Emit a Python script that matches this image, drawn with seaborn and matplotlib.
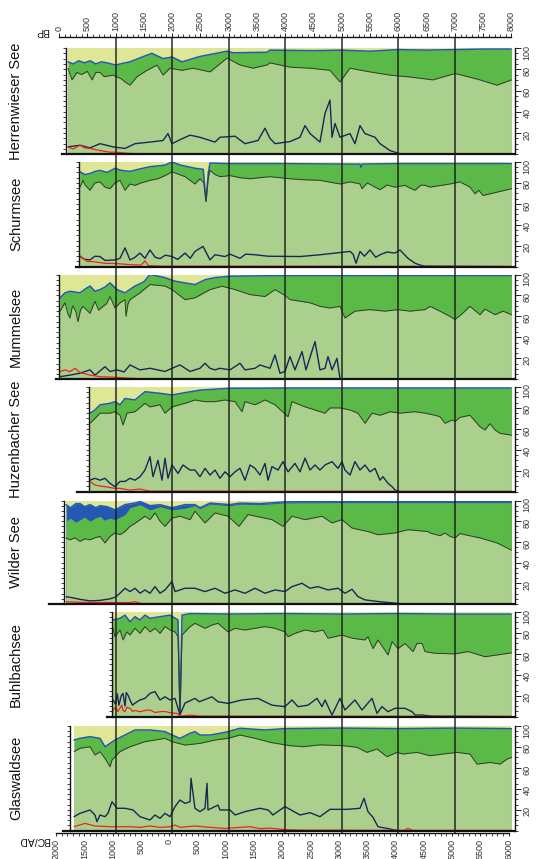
import numpy as np
import matplotlib
matplotlib.use("Agg")
import matplotlib.pyplot as plt
import seaborn as sns
from matplotlib.ticker import MultipleLocator, FixedLocator

# =========================
# 1. DATA (ages in cal BP, values in %)
# =========================
lake_names = ["Herrenwieser See", "Schurmsee", "Mummelsee", "Huzenbacher See",
              "Wilder See", "Buhlbachsee", "Glaswaldsee"]

# Herrenwieser See
herr_b_age = [159, 250, 350, 450, 550, 650, 750, 850, 1000, 1255, 1640, 1840, 1998, 2175, 2490, 2970, 3080,
              3680, 3730, 4500, 5000, 5500, 6000, 6500, 7000, 7500, 8000]
herr_b = [87, 85, 88, 86, 88, 85, 87, 86, 84, 87, 95, 90, 91.5, 87, 92, 97, 95.5,
          96, 98, 97.5, 98, 97, 98.5, 98, 98.5, 99, 99]
herr_a_age = [159, 230, 318, 400, 500, 585, 650, 725, 800, 955, 1100, 1170, 1255, 1379, 1556, 1733, 1839, 1962,
              2175, 2369, 2670, 2970, 3200, 3430, 3677, 3730, 4084, 4438, 4791, 4968, 5145, 5498, 5852,
              6206, 6612, 7001, 7266, 7443, 7744, 8000]
herr_a = [81, 70, 77, 75, 78, 70, 77, 77, 73, 74.5, 71, 68, 65, 73, 79, 84, 74.5, 81,
          79, 81, 77.5, 90.5, 84, 81, 84, 86, 82, 81, 79, 68, 81, 77.5, 74.5,
          72.7, 70, 76, 72.5, 70, 65, 70]
herr_n_age = [159, 371, 550, 725, 955, 1167, 1344, 1609, 1839, 1927, 1998, 2150, 2316, 2493, 2758, 2846, 3112,
              3288, 3518, 3642, 3730, 3819, 4084, 4261, 4349, 4438, 4614, 4703, 4791, 4827, 4880, 4968,
              5145, 5233, 5322, 5410, 5587, 5675, 5852, 6029, 8000]
herr_n = [7, 8.5, 6, 10, 7, 5.5, 10, 11.5, 13, 19.5, 10, 14, 18, 16, 11.5, 16, 17,
          10, 13, 24.5, 15, 10, 12, 16, 27, 19.5, 11.5, 38.5, 51, 16, 29, 16,
          19.5, 10, 27, 19.5, 16, 10, 3.5, 0.5, 0]
herr_r_age = [159, 250, 371, 460, 550, 725, 902, 990, 1255, 1600, 8000]
herr_r = [7, 5, 8.5, 6, 5.5, 3.5, 2, 2, 0.8, 0.5, 0.3]

# Schurmsee
schu_b_age = [371, 460, 550, 640, 725, 850, 990, 1100, 1255, 1400, 1609, 1874, 1998, 2150, 2404, 2550, 2599,
              2640, 2670, 3000, 4000, 5000, 5322, 5340, 5360, 6000, 7000, 8000]
schu_b = [90.6, 88, 89, 91, 92, 90, 94, 92, 91, 93, 95.5, 97, 100, 97, 94, 93, 63,
          90, 99, 98.5, 98.5, 98, 98, 95, 98, 98.5, 98.5, 98.5]
schu_a_age = [371, 424, 460, 548, 636, 725, 813, 902, 990, 1078, 1167, 1255, 1344, 1450, 1609, 1750, 1874,
              1998, 2228, 2404, 2493, 2560, 2599, 2640, 2670, 2758, 2846, 3023, 3200, 3377, 3730, 4084,
              4350, 4614, 4968, 5150, 5322, 5357, 5450, 5587, 5675, 5800, 5940, 6117, 6206, 6294, 6400,
              6470, 6560, 6913, 7089, 7266, 7355, 7420, 7496, 7620, 8000]
schu_a = [76, 82.5, 78, 73, 80, 81, 76, 74.5, 80, 82.5, 73, 79, 77.7, 80, 82.5, 84, 87,
          90.6, 86, 79, 84, 80, 62, 85, 92, 88, 86, 87, 85, 84, 86, 84,
          83, 82.5, 79, 81, 79, 74.5, 80, 76, 73.5, 78, 76, 77.7, 75, 73, 78,
          77.7, 76, 79, 81, 76, 69.6, 73, 68, 69.6, 74.5]
schu_n_age = [371, 460, 548, 636, 725, 813, 990, 1078, 1167, 1255, 1344, 1432, 1520, 1609, 1700, 1786, 1880,
              1998, 2100, 2228, 2320, 2404, 2546, 2670, 2758, 2935, 3023, 3200, 3300, 3465, 3700, 4261,
              4614, 5145, 5200, 5251, 5322, 5400, 5498, 5600, 5675, 5800, 5940, 6029, 6170, 6294, 6383,
              6471, 8000]
schu_n = [9.7, 7, 6.5, 10, 9.7, 6, 6.5, 8, 18, 6.5, 9, 13, 8, 16, 9, 7.7, 11,
          9.7, 7, 13, 8, 14.6, 19.4, 6.5, 11.4, 9.7, 12, 8, 12, 11.4, 10, 9.7,
          11.4, 14.6, 12, 3.3, 14.6, 10, 16, 9, 11.4, 14, 13, 16, 8, 3.3, 1.6,
          0.5, 0]
schu_r_age = [371, 424, 500, 600, 800, 1000, 1255, 1450, 1520, 1580, 1800, 8000]
schu_r = [10.4, 8, 5, 4.9, 3.3, 3, 2, 1.5, 5.5, 1, 0.5, 0.3]

# Mummelsee
mumm_b_age = [18, 106, 194, 371, 460, 548, 636, 725, 813, 902, 1025, 1167, 1344, 1500, 1609, 1874, 2051,
              2228, 2404, 2581, 2758, 3023, 4000, 5000, 6000, 7000, 8000]
mumm_b = [77.7, 82.5, 84, 82.5, 86, 89, 84, 85.6, 88, 92, 85.6, 82.5, 89, 93, 100, 97, 93.6,
          92, 90.4, 95, 97, 98.4, 99, 99, 99, 99, 99]
mumm_a_age = [18, 106, 160, 194, 230, 248, 300, 336, 380, 424, 548, 636, 700, 778, 840, 902, 990, 1080,
              1167, 1185, 1220, 1255, 1432, 1609, 1874, 1998, 2228, 2404, 2670, 2882, 3112, 3377, 3642,
              3819, 3996, 4084, 4438, 4614, 4791, 4968, 5056, 5233, 5498, 5764, 5994, 6206, 6471, 6560,
              6736, 6913, 7001, 7125, 7266, 7443, 7532, 7709, 7850, 8000]
mumm_a = [65, 73, 62, 58.5, 68, 70, 64, 55, 66, 69.6, 63, 74.4, 66, 69.6, 72, 79, 68, 73,
          76, 60, 72, 76, 82.5, 90.4, 89, 85.6, 76, 77.7, 85.6, 88.8, 85.6, 80.8, 79,
          85.6, 80, 76, 73, 69.6, 68, 69.6, 58.5, 65, 66.5, 65, 66.5, 65, 66.5, 69.6,
          65, 60, 57, 62.5, 69.6, 61.6, 67, 61.6, 65, 61.6]
mumm_n_age = [18, 194, 371, 548, 636, 725, 813, 902, 1025, 1150, 1255, 1432, 1609, 1874, 1998, 2139, 2316,
              2493, 2581, 2670, 2758, 2846, 3023, 3200, 3288, 3465, 3554, 3730, 3819, 3907, 3996, 4084,
              4172, 4296, 4367, 4526, 4614, 4703, 4756, 4827, 4915, 4968, 8000]
mumm_n = [2.5, 4, 5.8, 9, 4, 8, 12, 7.5, 9, 7, 13.7, 9, 10.5, 7.5, 10.5, 13.7, 7.5,
          10.5, 15.3, 10.5, 9, 10.5, 9, 15.3, 9, 10.5, 13.7, 10.5, 23.3, 5.8, 7.5, 21.7,
          9, 26.5, 9, 36, 9, 10.5, 21.7, 9, 20, 0.5, 0]
mumm_r_age = [18, 106, 194, 283, 371, 548, 725, 990, 1255, 1500, 8000]
mumm_r = [7.3, 9, 7.3, 10.5, 6.5, 4, 2.5, 2, 1, 0.5, 0.3]

# Huzenbacher See
huze_b_age = [548, 636, 725, 902, 990, 1078, 1167, 1344, 1520, 1786, 1998, 2228, 2493, 3023, 4000, 5000,
              6000, 7000, 8000]
huze_b = [75, 78, 83, 84.4, 86, 83, 89, 87.6, 95.5, 94, 92.4, 94.6, 97, 98.8, 99, 99,
          99, 99, 99]
huze_a_age = [548, 636, 725, 902, 990, 1078, 1132, 1202, 1344, 1520, 1609, 1786, 1874, 1998, 2228, 2404,
              2581, 2758, 2935, 3112, 3235, 3288, 3465, 3642, 3819, 4049, 4119, 4349, 4703, 4791, 4968,
              5145, 5286, 5410, 5534, 5675, 5852, 6029, 6294, 6471, 6648, 6736, 6825, 6948, 7001, 7089,
              7266, 7443, 7532, 7620, 7709, 7797, 8000]
huze_a = [65.3, 70, 75, 75, 76.4, 73, 63.7, 75, 76.4, 84.4, 81, 83, 75, 81, 84.4, 87.6,
          86, 86, 87.6, 86, 76.4, 86, 83, 87.6, 83, 71.6, 86, 81, 75, 80, 80,
          78, 75, 65.3, 75, 73, 76.4, 75, 76.4, 75, 73, 71.6, 65.3, 68.5, 67, 71,
          73, 62, 59, 65, 59, 55.7, 54]
huze_n_age = [548, 636, 725, 813, 902, 990, 1078, 1167, 1255, 1344, 1432, 1520, 1609, 1662, 1750, 1821,
              1874, 1927, 1998, 2104, 2192, 2316, 2404, 2493, 2581, 2670, 2758, 2846, 2935, 3023, 3112,
              3200, 3288, 3377, 3465, 3554, 3642, 3695, 3766, 3872, 3960, 4049, 4172, 4261, 4349, 4438,
              4526, 4614, 4703, 4827, 4933, 5003, 5056, 5145, 5233, 5322, 5410, 5498, 5587, 5675, 5728,
              5817, 5888, 5940, 6029, 8000]
huze_n = [11, 12.8, 11, 12.8, 8, 4.8, 9.8, 9.8, 12.8, 11, 14.3, 20.7, 33.4, 14.3, 30, 11,
          32, 12.8, 25.5, 17.5, 25.5, 20.7, 20.7, 14.3, 22.3, 15.9, 20.7, 12.8, 19, 14.3, 19,
          22.3, 11, 25.5, 22.3, 15.9, 27, 11, 24, 20.7, 28.7, 19, 27, 19, 32, 20.7,
          25.5, 20.7, 25.5, 28.7, 22.3, 28.7, 20.7, 15.9, 28.7, 20.7, 25.5, 19, 22.3, 11, 14.3,
          8, 4.8, 1.6, 0, 0]
huze_r_age = [548, 636, 725, 813, 902, 990, 1078, 1255, 1432, 1609, 8000]
huze_r = [9.6, 6.4, 5.4, 4.8, 4, 3.2, 3.2, 1.5, 2.5, 0.5, 0.3]

# Wilder See (has a broad blue band on top of the dark green)
wild_c_age = [124, 200, 300, 371, 450, 550, 650, 725, 850, 990, 1167, 1344, 1432, 1609, 1786, 1998, 2228,
              2404, 2493, 2670, 3023, 3200, 3554, 3996, 5000, 6000, 7000, 8000]
wild_c = [96, 93, 97, 97, 94, 96, 93, 95, 94, 91, 96, 97.5, 99, 95, 96, 93, 96,
          96, 93, 97.5, 96, 97.5, 97, 98.7, 99, 99, 99, 99]
wild_b_age = [124, 200, 300, 371, 450, 548, 640, 725, 800, 902, 990, 1080, 1167, 1255, 1432, 1609, 1786,
              1998, 2228, 2404, 2493, 2670, 3023, 3200, 3554, 3996, 5000, 6000, 7000, 8000]
wild_b = [80, 83, 79, 81.5, 84, 80, 83, 84.8, 81, 83, 81.5, 84, 86.4, 93, 96, 91, 94,
          91, 92.6, 95, 92, 96.5, 95, 96.5, 96, 97.7, 98, 98, 98, 98]
wild_a_age = [124, 194, 280, 371, 460, 548, 636, 725, 813, 902, 990, 1078, 1167, 1255, 1344, 1520, 1609,
              1697, 1786, 1874, 1998, 2139, 2316, 2404, 2581, 2758, 2988, 3182, 3341, 3766, 3960, 4119,
              4349, 4650, 4827, 5003, 5180, 5463, 5640, 5940, 6170, 6524, 6560, 6736, 6825, 6913, 7001,
              7089, 7443, 7744, 8000]
wild_a = [63.8, 62, 64, 60.5, 63, 62, 64, 65.3, 59, 65.3, 68.6, 67, 70, 75, 78, 84.8, 81.5,
          88, 80, 75, 83, 84.8, 81.5, 89.6, 78.3, 88, 84.8, 75, 86.4, 81.5, 75, 84.8,
          81.5, 84.8, 78.3, 81.5, 73.4, 70, 66.9, 68.6, 71.8, 70, 68.6, 66, 68.6, 65.3, 63.8,
          68, 63.8, 59, 52]
wild_n_age = [124, 194, 371, 548, 725, 902, 990, 1078, 1167, 1255, 1344, 1432, 1520, 1609, 1697, 1786,
              1874, 1998, 2051, 2228, 2404, 2581, 2758, 2935, 3112, 3288, 3465, 3642, 3819, 3996, 4119,
              4296, 4438, 4579, 4756, 4933, 5056, 5180, 5286, 5410, 5640, 5940, 6100, 8000]
wild_n = [7, 6.5, 4.5, 3, 3.5, 5, 6.5, 10.4, 15.2, 12, 15.2, 10.4, 13.6, 10.4, 16.8, 10.4,
          13.6, 21.7, 12, 15.2, 15.2, 12, 15.2, 10.4, 13.6, 10.4, 15.2, 10.4, 13.6, 12, 16.8,
          20, 15.2, 16.8, 13.6, 15.2, 10.4, 14.2, 7.2, 4, 2.4, 0.8, 0, 0]
wild_r_age = [124, 400, 800, 1255, 1344, 1450, 8000]
wild_r = [2.2, 1.5, 1.5, 1.3, 2.2, 0.5, 0.3]

# Buhlbachsee
buhl_b_age = [955, 1078, 1167, 1255, 1344, 1432, 1520, 1609, 1786, 1962, 2104, 2139, 2175, 2316, 3000, 4000,
              5000, 6000, 7000, 8000]
buhl_b = [92.4, 94, 97, 90.7, 95.5, 92.4, 97, 94, 95.5, 97, 92.4, 3, 97, 98.5, 98, 98.5,
          98, 98.5, 98, 98]
buhl_a_age = [955, 990, 1078, 1132, 1202, 1255, 1344, 1432, 1520, 1609, 1697, 1786, 1874, 1962, 2051, 2104,
              2139, 2175, 2316, 2404, 2581, 2705, 2811, 2988, 3112, 3288, 3465, 3642, 3819, 3996, 4049,
              4172, 4349, 4526, 4668, 4756, 5003, 5180, 5410, 5463, 5551, 5640, 5817, 5888, 5994, 6117,
              6259, 6329, 6418, 6471, 6648, 7001, 7231, 7532, 8000]
buhl_a = [84.4, 76.4, 82.8, 73.3, 81, 78, 84.4, 79.6, 86, 81, 84.4, 79.6, 86, 82.8, 81, 76.4,
          2, 78, 86, 89.2, 84.4, 87.6, 89.2, 81, 84.4, 82.8, 84.4, 86, 84.4, 81, 76.4,
          79.6, 82.8, 81, 82.8, 75, 78, 75, 73.3, 76.4, 65, 73.3, 59, 71.7, 65, 70,
          62.2, 70, 70, 62.2, 60.6, 60, 62.2, 57.3, 61]
buhl_n_age = [955, 1000, 1030, 1060, 1100, 1132, 1167, 1190, 1220, 1255, 1300, 1344, 1432, 1520, 1609, 1697,
              1786, 1874, 1962, 2051, 2139, 2228, 2404, 2480, 2705, 2811, 2988, 3235, 3518, 3766, 3996,
              4119, 4225, 4402, 4561, 4650, 4703, 4827, 4968, 5056, 5233, 5357, 5534, 5622, 5710, 5817,
              5940, 6117, 6241, 6294, 6418, 6600, 8000]
buhl_n = [16, 12, 22, 11, 20, 22.3, 10.2, 23, 20.7, 16, 11, 13, 16, 17.5, 22.3, 24,
          16, 19, 16, 17.5, 2, 13, 17.5, 14.3, 19, 14.3, 12.7, 16, 17.5, 11, 9.6,
          16, 9.6, 11, 17.5, 9.6, 16, 1.6, 17.5, 6.4, 16, 6.4, 17.5, 3.2, 9.6, 4.8,
          8, 8, 4.8, 1.6, 1.6, 0.5, 0]
buhl_r_age = [955, 1000, 1040, 1078, 1110, 1132, 1167, 1200, 1255, 1300, 1344, 1432, 1520, 1609, 1700, 1786,
              1874, 1962, 2100, 2139, 2316, 2500, 8000]
buhl_r = [6.4, 9, 5, 8, 11, 6, 4.8, 9, 8, 5, 6, 4.8, 6, 6.4, 4, 4.8,
          5, 3.8, 3, 0.5, 1.5, 0.5, 0.3]

# Glaswaldsee
glas_b_age = [265, 371, 548, 725, 813, 902, 990, 1167, 1344, 1609, 1874, 1998, 2139, 2316, 2404, 2493, 2670,
              2846, 2988, 3200, 3642, 4000, 5000, 6000, 7000, 8000]
glas_b = [86.6, 88.2, 89.8, 88.2, 80.2, 83.4, 86.6, 91.4, 96.2, 96.2, 94.6, 91.4, 88.2, 93, 94.6, 91.4, 91.4,
          93, 94.6, 97.8, 96.2, 97.5, 98, 97.5, 98, 97.5]
glas_a_age = [265, 371, 548, 636, 725, 813, 902, 937, 990, 1078, 1255, 1520, 1874, 1998, 2228, 2493, 2758,
              2988, 3200, 3465, 3695, 3730, 4084, 4314, 4614, 5021, 5270, 5445, 5622, 5799, 5976, 6082,
              6329, 6560, 6789, 7036, 7266, 7390, 7620, 7797, 7921, 8000]
glas_a = [75.5, 78.7, 80.2, 72.3, 75.5, 69.1, 61.1, 67.5, 70.7, 75.5, 80.2, 85, 88.2, 85, 81.8, 83.4, 86.6,
          88.2, 91.4, 88.2, 85, 84.4, 81.2, 80.2, 82, 81.2, 79.6, 74.8, 78, 70.7, 74.8, 73.2,
          74.8, 71.6, 73.2, 74.8, 73.2, 63.6, 65.2, 63.6, 68.4, 70]
glas_n_age = [265, 371, 548, 636, 672, 725, 813, 866, 937, 1025, 1167, 1308, 1432, 1609, 1697, 1786, 1874,
              1962, 2051, 2139, 2228, 2316, 2334, 2404, 2493, 2581, 2617, 2634, 2811, 2846, 3023, 3112,
              3288, 3554, 3695, 3730, 3780, 3996, 4261, 4438, 4614, 4791, 5092, 5322, 5392, 5463, 5551,
              5640, 5799, 5994, 8000]
glas_n = [13.4, 16.6, 19.8, 15, 8.6, 15, 13.4, 16.6, 27.7, 21.4, 21.4, 19.8, 13.4, 10.2, 15, 11.8, 16.6,
          13.4, 23, 29.3, 26.1, 27.7, 50, 21.4, 18.2, 21.4, 45.3, 19.8, 24.5, 19.8, 19.8, 15,
          18.2, 21.4, 19.8, 18.2, 15, 23, 15, 17.2, 13.4, 20.4, 20.4, 21.4, 31, 18.2, 12.8,
          3.8, 2.2, 0, 0]
glas_r_age = [265, 460, 636, 902, 1255, 1432, 1609, 1786, 1962, 2051, 2139, 2404, 2670, 2935, 3377, 3554,
              3730, 4000, 4300, 6100, 6170, 6250, 8000]
glas_r = [3.8, 7, 4.5, 3.8, 3.8, 3.2, 4.5, 3.2, 3.8, 5.4, 3.2, 4.5, 3.2, 2.2, 3.8, 2,
          2.5, 1, 0.5, 0.3, 2.2, 0.3, 0.3]

bp_ticks = list(range(0, 8001, 500))
grid_ages = list(range(1000, 8000, 1000))
bcad_years = [2000, 1500, 1000, 500, 0, 500, 1000, 1500, 2000, 2500, 3000, 3500, 4000, 4500, 5000, 5500, 6000]
bcad_is_bc = [False] * 5 + [True] * 12

# =========================
# 2. STYLE
# =========================
sns.set_theme(style="white")
plt.rcParams["font.family"] = ["Liberation Sans", "DejaVu Sans"]

YELLOW = "#dfe696"
GREEN = "#5bb947"
LIGHT = "#abcf8c"
BLUE = "#2458b5"
NAVY = "#1b2659"
RED = "#f0231f"
ALINE = "#2f3d2a"
TICKC = "#333333"

W, H = 537, 859
X0 = 59.0          # pixel of 0 BP
PX = 0.05656       # pixels per year
AGE_RIGHT = 8062   # age at right spine

fig = plt.figure(figsize=(W / 100, H / 100), dpi=100)

# panel layout: (top px, bottom px, age where bottom line starts, age of left spine)
layout = [(48, 154.3, 48, 118), (162, 266.7, 300, 354), (274.5, 379.3, -53, 5),
          (387, 491.7, 318, 536), (500.5, 604, -177, 88), (612, 716.7, 849, 932),
          (726, 830.7, 65, 194)]

series = [
    (herr_b_age, herr_b, herr_a_age, herr_a, herr_n_age, herr_n, herr_r_age, herr_r, None, None),
    (schu_b_age, schu_b, schu_a_age, schu_a, schu_n_age, schu_n, schu_r_age, schu_r, None, None),
    (mumm_b_age, mumm_b, mumm_a_age, mumm_a, mumm_n_age, mumm_n, mumm_r_age, mumm_r, None, None),
    (huze_b_age, huze_b, huze_a_age, huze_a, huze_n_age, huze_n, huze_r_age, huze_r, None, None),
    (wild_b_age, wild_b, wild_a_age, wild_a, wild_n_age, wild_n, wild_r_age, wild_r, wild_c_age, wild_c),
    (buhl_b_age, buhl_b, buhl_a_age, buhl_a, buhl_n_age, buhl_n, buhl_r_age, buhl_r, None, None),
    (glas_b_age, glas_b, glas_a_age, glas_a, glas_n_age, glas_n, glas_r_age, glas_r, None, None),
]

# =========================
# 3. PANELS
# =========================
for name, (top, bot, line_age, spine_age), s in zip(lake_names, layout, series):
    b_age, b, a_age, a, n_age, n, r_age, r, c_age, c = s
    x_left = X0 + line_age * PX
    ax = fig.add_axes([x_left / W, 1 - bot / H, (515 - x_left) / W, (bot - top) / H])
    ax.set_xlim(line_age, AGE_RIGHT)
    ax.set_ylim(0, 100)
    ax.patch.set_alpha(0)

    ax.fill_between([b_age[0], 8000], 0, 100, color=YELLOW, lw=0)
    top_age, top_val = b_age, b
    if c is not None:
        ax.fill_between(c_age, 0, c, color=BLUE, lw=0)
        top_age, top_val = c_age, c
    ax.fill_between(b_age, 0, b, color=GREEN, lw=0)
    sns.lineplot(x=top_age, y=top_val, ax=ax, color=BLUE, linewidth=1.1)
    ax.fill_between(a_age, 0, a, color=LIGHT, lw=0)
    sns.lineplot(x=a_age, y=a, ax=ax, color=ALINE, linewidth=0.7)
    sns.lineplot(x=n_age, y=n, ax=ax, color=NAVY, linewidth=1.0)
    sns.lineplot(x=r_age, y=r, ax=ax, color=RED, linewidth=0.9)

    ax.set_xlabel("")
    ax.set_ylabel("")
    ax.set_xticks([])
    ax.spines["top"].set_visible(False)
    ax.spines["right"].set_visible(False)
    ax.spines["left"].set_position(("data", spine_age))
    ax.spines["left"].set_color("#111111")
    ax.spines["left"].set_linewidth(1.0)
    ax.spines["bottom"].set_color("#111111")
    ax.spines["bottom"].set_linewidth(1.6)
    ax.yaxis.set_major_locator(MultipleLocator(5))
    ax.tick_params(axis="y", left=True, length=2.5, width=0.6, color="#222222",
                   labelleft=False, direction="out")

    sec = ax.secondary_yaxis("right")
    sec.set_yticks([20, 40, 60, 80, 100])
    sec.yaxis.set_minor_locator(MultipleLocator(5))
    sec.tick_params(which="major", length=4, width=0.7, color="#222222",
                    labelsize=6.5, labelcolor=TICKC, labelrotation=90, pad=1.5)
    sec.tick_params(which="minor", length=2.5, width=0.6, color="#222222")
    sec.spines["right"].set_color("#111111")
    sec.spines["right"].set_linewidth(1.0)

    fig.text(16 / W, 1 - (top + bot) / 2 / H, name, rotation=90, ha="center", va="center",
             fontsize=10.5, color="#111111")

# =========================
# 4. TIME AXES + GRID
# =========================
ov_left_age = -70
ox = X0 + ov_left_age * PX
ov_rect = [ox / W, 1 - 833.3 / H, (515 - ox) / W, (833.3 - 37.3) / H]

ov = fig.add_axes(ov_rect, zorder=10)
ov.patch.set_visible(False)
ov.set_xlim(ov_left_age, AGE_RIGHT)
ov.set_ylim(0, 1)
ov.set_yticks([])
for side in ["left", "right", "bottom"]:
    ov.spines[side].set_visible(False)
ov.spines["top"].set_bounds(0, 8000)
ov.spines["top"].set_color("#111111")
ov.spines["top"].set_linewidth(1.0)
ov.vlines(grid_ages, 0, 1, colors="#1a1a1a", linewidth=1.2, alpha=0.85)
ov.xaxis.tick_top()
ov.set_xticks(bp_ticks)
ov.set_xticklabels([str(t) for t in bp_ticks])
ov.xaxis.set_minor_locator(FixedLocator(list(range(0, 8001, 100))))
ov.tick_params(axis="x", which="major", length=3, width=0.7, color="#222222",
               labelsize=6.5, labelcolor=TICKC, labelrotation=90, pad=1.5)
ov.tick_params(axis="x", which="minor", length=2, width=0.6, color="#222222")

bc_pos = [1950 + y if bc else 1950 - y for y, bc in zip(bcad_years, bcad_is_bc)]
ob = fig.add_axes(ov_rect, zorder=10)
ob.patch.set_visible(False)
ob.set_xlim(ov_left_age, AGE_RIGHT)
ob.set_ylim(0, 1)
ob.set_yticks([])
for side in ["left", "right", "top"]:
    ob.spines[side].set_visible(False)
ob.spines["bottom"].set_bounds(-50, 7950)
ob.spines["bottom"].set_color("#111111")
ob.spines["bottom"].set_linewidth(1.0)
ob.set_xticks(bc_pos)
ob.set_xticklabels([str(y) for y in bcad_years])
ob.xaxis.set_minor_locator(FixedLocator(list(range(-50, 7951, 100))))
ob.tick_params(axis="x", which="major", bottom=True, length=2.5, width=0.7, color="#222222",
               labelsize=6.5, labelcolor=TICKC, labelrotation=90, pad=1.5)
ob.tick_params(axis="x", which="minor", bottom=True, length=2, width=0.6, color="#222222")

fig.text(42 / W, 1 - 31 / H, "BP", rotation=180, ha="center", va="center", fontsize=7.5, color="#111111")
fig.text(34 / W, 1 - 840 / H, "BC/AD", rotation=180, ha="center", va="center", fontsize=7.5, color="#111111")

fig.savefig("out.png", dpi=100)
